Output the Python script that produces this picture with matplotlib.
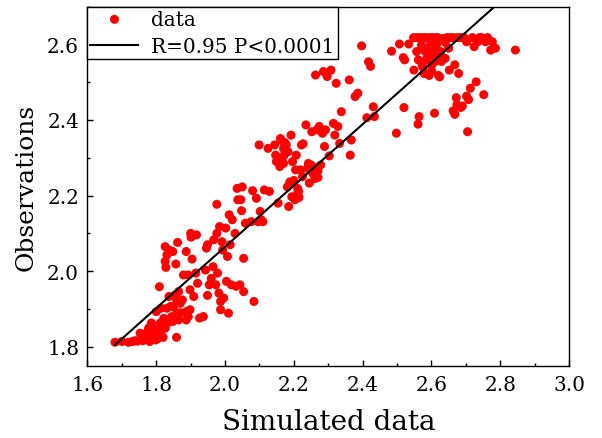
import matplotlib
matplotlib.use("Agg")
import matplotlib.pyplot as plt
from matplotlib.ticker import MultipleLocator
import numpy as np

sim_x = [
    1.680, 1.700, 1.719, 1.731, 1.738, 1.753, 1.761, 1.770, 1.775, 1.781, 1.786, 1.792, 1.798,
    1.786, 1.803, 1.812, 1.820, 1.826, 1.837, 1.848, 1.859, 1.865, 1.862, 1.800, 1.809, 1.814,
    1.831, 1.837, 1.842, 1.854, 1.859, 1.870, 1.865, 1.876, 1.887, 1.893, 1.887, 1.898,
    1.745, 1.765, 1.790, 1.805, 1.815, 1.830, 1.845, 1.778, 1.795, 1.822, 1.850, 1.870,
    1.826, 1.831, 1.837, 1.826, 1.828, 1.848, 1.857, 1.862, 1.879, 1.887, 1.893, 1.898, 1.904,
    1.900, 1.901, 1.917, 1.909, 1.915, 1.920, 1.926, 1.937, 1.943, 1.946, 1.949, 1.949, 1.954,
    1.960, 1.965, 1.967, 1.973, 1.976, 1.976, 1.978, 1.982, 1.984, 1.987, 1.987, 1.991, 1.993,
    1.996, 2.002, 2.004, 2.007, 2.010, 2.012, 2.015, 2.018, 2.021, 2.029, 2.032, 2.035, 2.037,
    2.043, 2.046, 2.048, 2.050, 2.054, 2.054, 2.059, 2.076, 2.080, 2.084, 2.091, 2.096, 2.099,
    2.102, 2.105, 2.110, 2.114, 2.125, 2.129, 2.144, 2.147, 2.149, 2.154, 2.159, 2.161, 2.165,
    2.170, 2.172, 2.174, 2.178, 2.181, 2.183, 2.185, 2.188, 2.192, 2.194, 2.196, 2.200, 2.203,
    2.205, 2.207, 2.211, 2.214, 2.219, 2.222, 2.225, 2.227, 2.235, 2.239, 2.242, 2.245, 2.250,
    2.252, 2.255, 2.261, 2.263, 2.267, 2.270, 2.274, 2.278, 2.281, 2.283, 2.286, 2.289, 2.292,
    2.297, 2.303, 2.308, 2.315, 2.319, 2.323, 2.328, 2.333, 2.338, 2.361, 2.364, 2.367, 2.378,
    2.386, 2.397, 2.412, 2.417, 2.423, 2.431, 2.434, 2.484, 2.498, 2.507, 2.518, 2.520, 2.522,
    2.534, 2.548, 2.549, 2.557, 2.561, 2.562, 2.564, 2.568, 2.571, 2.573, 2.579, 2.582, 2.587,
    2.590, 2.593, 2.596, 2.601, 2.605, 2.606, 2.609, 2.612, 2.618, 2.620, 2.624, 2.627, 2.629,
    2.635, 2.640, 2.646, 2.650, 2.652, 2.663, 2.668, 2.663, 2.668, 2.672, 2.674, 2.679, 2.685,
    2.690, 2.685, 2.702, 2.702, 2.705, 2.708, 2.713, 2.719, 2.724, 2.730, 2.735, 2.746, 2.752,
    2.757, 2.763, 2.772, 2.777, 2.786, 2.844,
    2.558, 2.578, 2.598, 2.615, 2.655, 2.675, 2.695, 2.740, 2.580, 2.600, 2.615, 2.640, 2.575,
    2.600, 2.585, 2.610, 2.620, 2.595, 2.170, 2.165, 2.175, 2.270, 2.268, 2.210, 2.215, 2.152,
]
obs_y = [
    1.812, 1.814, 1.812, 1.814, 1.816, 1.836, 1.816, 1.827, 1.841, 1.814, 1.830, 1.849, 1.818,
    1.863, 1.841, 1.863, 1.825, 1.849, 1.871, 1.867, 1.825, 1.871, 1.889, 1.893, 1.959, 1.902,
    1.902, 1.933, 1.907, 1.937, 1.924, 1.915, 1.946, 1.924, 1.893, 1.880, 1.871, 1.898,
    1.815, 1.820, 1.835, 1.822, 1.845, 1.860, 1.880, 1.850, 1.828, 1.875, 1.905, 1.890,
    2.065, 2.043, 2.056, 2.026, 2.010, 2.052, 2.019, 2.076, 1.990, 2.052, 1.990, 1.951, 2.032,
    2.100, 2.090, 2.096, 1.933, 1.995, 1.968, 1.876, 1.880, 2.003, 2.061, 2.070, 1.936, 1.964,
    1.981, 2.012, 2.083, 1.964, 2.100, 2.177, 1.995, 1.942, 2.118, 1.920, 1.898, 2.078, 2.056,
    1.929, 2.114, 1.973, 2.039, 1.889, 2.149, 2.070, 1.964, 2.136, 2.100, 1.960, 2.219, 2.189,
    1.964, 2.189, 2.160, 2.223, 2.034, 1.946, 2.127, 2.131, 2.213, 1.920, 2.193, 2.131, 2.334,
    2.158, 2.136, 2.131, 2.215, 2.325, 2.211, 2.334, 2.307, 2.290, 2.180, 2.277, 2.351, 2.298,
    2.285, 2.307, 2.340, 2.334, 2.223, 2.316, 2.171, 2.236, 2.360, 2.197, 2.290, 2.240, 2.189,
    2.268, 2.307, 2.219, 2.211, 2.268, 2.334, 2.250, 2.337, 2.387, 2.272, 2.285, 2.233, 2.281,
    2.369, 2.259, 2.245, 2.519, 2.374, 2.248, 2.383, 2.281, 2.369, 2.365, 2.528, 2.330, 2.374,
    2.515, 2.305, 2.532, 2.391, 2.360, 2.497, 2.383, 2.338, 2.422, 2.506, 2.307, 2.347, 2.462,
    2.471, 2.596, 2.406, 2.554, 2.542, 2.435, 2.409, 2.582, 2.365, 2.601, 2.565, 2.433, 2.559,
    2.601, 2.618, 2.532, 2.581, 2.389, 2.559, 2.409, 2.618, 2.598, 2.546, 2.523, 2.581, 2.618,
    2.567, 2.518, 2.594, 2.546, 2.618, 2.572, 2.418, 2.555, 2.618, 2.518, 2.514, 2.581, 2.555,
    2.616, 2.563, 2.618, 2.590, 2.532, 2.618, 2.546, 2.424, 2.415, 2.459, 2.441, 2.523, 2.433,
    2.437, 2.618, 2.607, 2.463, 2.369, 2.454, 2.484, 2.618, 2.594, 2.501, 2.607, 2.618, 2.467,
    2.607, 2.618, 2.585, 2.607, 2.590, 2.585,
    2.618, 2.618, 2.618, 2.618, 2.618, 2.618, 2.618, 2.618, 2.590, 2.575, 2.600, 2.605, 2.540,
    2.530, 2.560, 2.585, 2.560, 2.610, 2.325, 2.345, 2.315, 2.265, 2.275, 2.205, 2.195, 2.300,
]

fit_slope = 0.811
fit_intercept = 0.4425
fit_x_range = [1.68, 2.80]

plt.rcParams['font.family'] = ['DejaVu Serif']

fig = plt.figure(figsize=(6.02, 4.39), dpi=100)
ax = fig.add_axes([0.1453, 0.1647, 0.800, 0.818])

ax.scatter(sim_x, obs_y, s=42, color='#ff0000', edgecolors='none', label='data', zorder=2)
fx = np.array(fit_x_range)
ax.plot(fx, fit_intercept + fit_slope * fx, color='black', lw=1.5,
        label='R=0.95 P<0.0001', zorder=3)

ax.set_xlim(1.6, 3.0)
ax.set_ylim(1.75, 2.70)
ax.xaxis.set_major_locator(MultipleLocator(0.2))
ax.xaxis.set_minor_locator(MultipleLocator(0.1))
ax.yaxis.set_major_locator(MultipleLocator(0.2))
ax.yaxis.set_minor_locator(MultipleLocator(0.1))
ax.xaxis.set_major_formatter(matplotlib.ticker.FormatStrFormatter('%.1f'))
ax.yaxis.set_major_formatter(matplotlib.ticker.FormatStrFormatter('%.1f'))
ax.tick_params(which='both', direction='in', top=False, right=False, width=1.0)
ax.tick_params(which='major', length=4.5, labelsize=14.5)
ax.tick_params(axis='x', which='major', pad=7)
ax.tick_params(axis='y', which='major', pad=6)
ax.tick_params(which='minor', length=2.5)
for sp in ax.spines.values():
    sp.set_linewidth(1.0)

ax.set_xlabel('Simulated data', fontsize=20, labelpad=10)
ax.set_ylabel('Observations', fontsize=18, labelpad=7)

leg = ax.legend(loc='upper left', bbox_to_anchor=(0, 1), borderaxespad=0,
                fontsize=14.4, frameon=True, fancybox=False, edgecolor='black',
                framealpha=1, handlelength=2.4, handletextpad=0.65, borderpad=0.15,
                labelspacing=0.4, markerscale=1.0)
leg.get_frame().set_linewidth(1.0)

fig.savefig('out.png', dpi=100)
